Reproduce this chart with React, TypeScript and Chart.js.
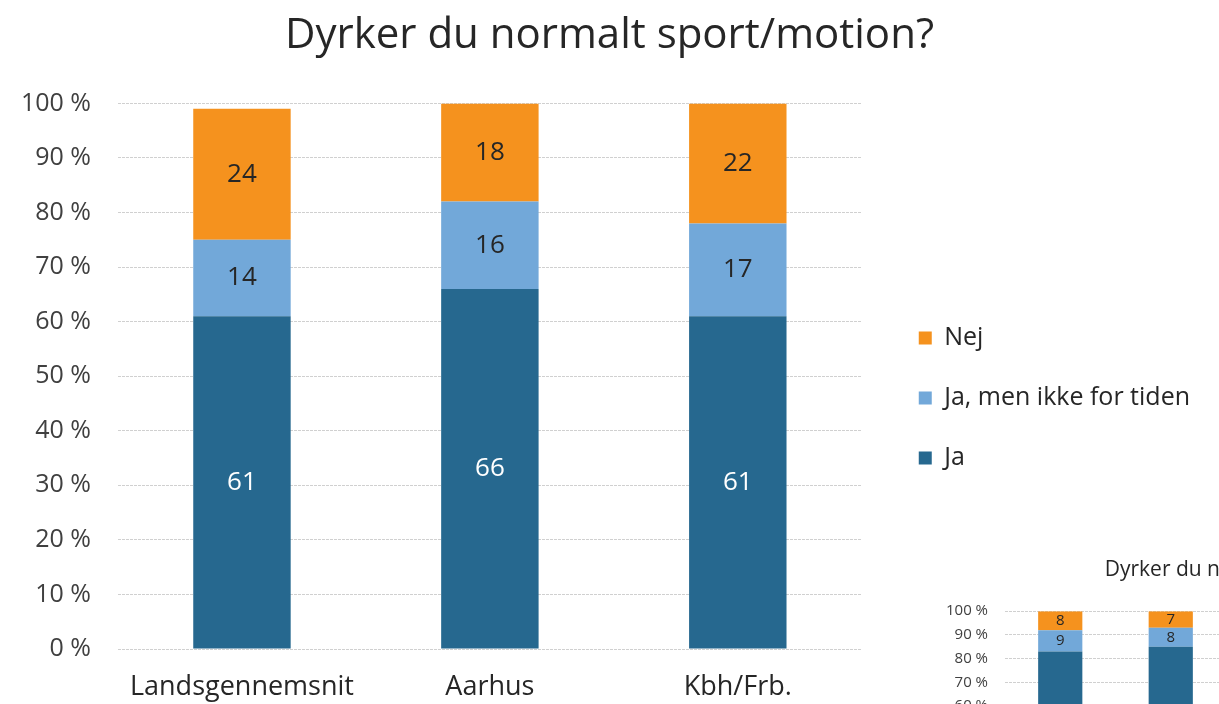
import React, { useEffect, useRef } from "react";
import { Chart, registerables } from "chart.js";

Chart.register(...registerables);

// ---- Data ----
const titleText = "Dyrker du normalt sport/motion?";
const categories = ["Landsgennemsnit", "Aarhus", "Kbh/Frb."];
const seriesNames = ["Ja", "Ja, men ikke for tiden", "Nej"];
const jaValues = [61, 66, 61];
const jaMenValues = [14, 16, 17];
const nejValues = [24, 18, 22];

const smallCategories = ["Landsgennemsnit", "Aarhus"];
const smallJaValues = [83, 85];
const smallJaMenValues = [9, 8];
const smallNejValues = [8, 7];

const seriesColors = ["#26688f", "#72a8d9", "#f5921e"];
const labelColors = ["#ffffff", "#262626", "#262626"];

const FONT = "'Open Sans', Lato, sans-serif";

const segmentLabels = {
  id: "segmentLabels",
  afterDatasetsDraw(chart: any, _args: any, opts: any) {
    const ctx = chart.ctx;
    ctx.save();
    ctx.font = `${opts.size || 24}px ${FONT}`;
    ctx.textAlign = "center";
    ctx.textBaseline = "middle";
    chart.data.datasets.forEach((ds: any, di: number) => {
      const meta = chart.getDatasetMeta(di);
      meta.data.forEach((el: any, i: number) => {
        const v = ds.data[i];
        if (v == null) return;
        const p = el.getProps(["x", "y", "base"], true);
        ctx.fillStyle = labelColors[di];
        ctx.fillText(String(v), p.x, (p.y + p.base) / 2 + (opts.dy || 0));
      });
    });
    ctx.restore();
  },
};

function buildDatasets(a: number[], b: number[], c: number[], barPct: number) {
  return [a, b, c].map((d, i) => ({
    label: seriesNames[i],
    data: d,
    backgroundColor: seriesColors[i],
    borderWidth: 0,
    barPercentage: barPct,
    categoryPercentage: 1,
  }));
}

function MainChart() {
  const ref = useRef<HTMLCanvasElement>(null);
  useEffect(() => {
    const chart = new Chart(ref.current!, {
      type: "bar",
      data: {
        labels: categories,
        datasets: buildDatasets(jaValues, jaMenValues, nejValues, 0.393) as any,
      },
      plugins: [segmentLabels],
      options: {
        animation: false,
        responsive: false,
        layout: { padding: { left: 19, right: 19, top: 0, bottom: 0 } },
        plugins: {
          tooltip: { enabled: false },
          title: {
            display: true,
            text: titleText,
            color: "#262626",
            font: { family: FONT, size: 42, weight: "normal" },
            padding: { top: 11, bottom: 42 },
          },
          legend: {
            position: "right",
            reverse: true,
            align: "center",
            maxWidth: 400,
            title: {
              display: true,
              text: "",
              font: { family: FONT, size: 24 },
              padding: { top: 32, bottom: 31 },
            },
            labels: {
              color: "#262626",
              font: { family: FONT, size: 25 },
              boxWidth: 13,
              boxHeight: 13,
              padding: 35,
            },
          },
          segmentLabels: { size: 26 },
        } as any,
        scales: {
          x: {
            stacked: true,
            grid: { display: false, drawTicks: false },
            border: { display: false },
            ticks: {
              color: "#262626",
              font: { family: FONT, size: 27 },
              padding: 22,
            },
            afterFit: (s: any) => {
              s.height = 55;
            },
          },
          y: {
            stacked: true,
            min: 0,
            max: 100,
            grid: { color: "#d0d0d0", drawTicks: false, lineWidth: 1 },
            border: { display: false, dash: [3, 1] },
            ticks: {
              stepSize: 10,
              color: "#404040",
              font: { family: FONT, size: 25 },
              padding: 27,
              callback: (v: any) => `${v} %`,
            },
            afterFit: (s: any) => {
              s.width = 99;
            },
          },
          yGhost: {
            position: "right",
            display: true,
            grid: { display: false, drawTicks: false },
            border: { display: false },
            ticks: { display: false },
            afterFit: (s: any) => {
              s.width = 22;
            },
          },
        } as any,
      },
    });
    return () => chart.destroy();
  }, []);
  return (
    <canvas
      ref={ref}
      width={1219}
      height={704}
      style={{ position: "absolute", left: 0, top: 0, width: 1219, height: 704 }}
    />
  );
}

function SmallChart() {
  const ref = useRef<HTMLCanvasElement>(null);
  useEffect(() => {
    const chart = new Chart(ref.current!, {
      type: "bar",
      data: {
        labels: smallCategories,
        datasets: buildDatasets(smallJaValues, smallJaMenValues, smallNejValues, 0.4) as any,
      },
      plugins: [segmentLabels],
      options: {
        animation: false,
        responsive: false,
        layout: { padding: { left: 0, right: 0, top: 0, bottom: 0 } },
        plugins: {
          tooltip: { enabled: false },
          legend: { display: false },
          title: {
            display: true,
            text: titleText,
            color: "#262626",
            font: { family: FONT, size: 21, weight: "normal" },
            padding: { top: 12, bottom: 29 },
          },
          segmentLabels: { size: 15 },
        } as any,
        scales: {
          x: {
            stacked: true,
            grid: { display: false, drawTicks: false },
            border: { display: false },
            ticks: { color: "#262626", font: { family: FONT, size: 14 }, padding: 10 },
            afterFit: (s: any) => {
              s.height = 37;
            },
          },
          y: {
            stacked: true,
            min: 0,
            max: 100,
            grid: { color: "#d0d0d0", drawTicks: false },
            border: { display: false, dash: [3, 1] },
            ticks: {
              stepSize: 10,
              color: "#404040",
              font: { family: FONT, size: 15 },
              padding: 17,
              callback: (v: any) => `${v} %`,
            },
            afterFit: (s: any) => {
              s.width = 105;
            },
          },
          yGhost: {
            position: "right",
            display: true,
            grid: { display: false, drawTicks: false },
            border: { display: false },
            ticks: { display: false },
            afterFit: (s: any) => {
              s.width = 408;
            },
          },
        } as any,
      },
    });
    return () => chart.destroy();
  }, []);
  return (
    <canvas
      ref={ref}
      width={734}
      height={340}
      style={{ position: "absolute", left: 900, top: 545, width: 734, height: 340 }}
    />
  );
}

export default function App() {
  return (
    <div
      style={{
        position: "fixed",
        left: 0,
        top: 0,
        width: 1219,
        height: 704,
        overflow: "hidden",
        background: "#ffffff",
      }}
    >
      <MainChart />
      <SmallChart />
    </div>
  );
}
